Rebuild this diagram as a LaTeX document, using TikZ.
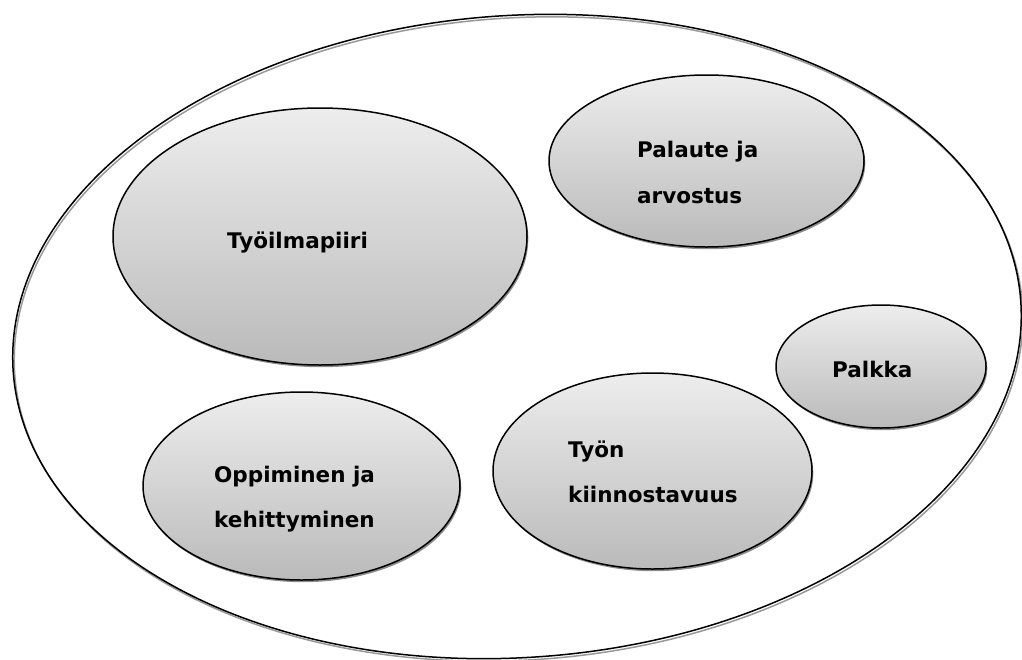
\documentclass[tikz,border=0pt]{standalone}
\usepackage{fontspec}
\setmainfont{DejaVu Sans}
\usetikzlibrary{shapes.geometric,shadows}
\tikzset{
  bubble/.style={ellipse, draw=black, line width=1.5pt, inner sep=0pt,
    top color=black!7, bottom color=black!27,
    drop shadow={shadow xshift=1.3pt, shadow yshift=-2.2pt, fill=black!45, opacity=1}},
  outerline/.style={ellipse, draw=black, line width=1.5pt, inner sep=0pt},
  outershade/.style={ellipse, draw=black!40, line width=1.5pt, inner sep=0pt},
  lbl/.style={anchor=base west, inner sep=0pt, font=\fontsize{21.5}{26}\selectfont\bfseries}
}
\begin{document}
\begin{tikzpicture}[x=1pt,y=-1pt]
\useasboundingbox (0,0) rectangle (1022,659);
% outer ellipse
\node[outershade, rotate=4, minimum width=1010pt, minimum height=642pt] (outershadow) at (518.5,339) {};
\node[outerline, rotate=4, minimum width=1010pt, minimum height=642pt] (outer) at (517,336.5) {};
% inner ellipses
\node[bubble, minimum width=414pt, minimum height=257pt] (tyoil) at (320,236.5) {};
\node[bubble, minimum width=315pt, minimum height=172pt] (palaute) at (706.5,161) {};
\node[bubble, minimum width=210pt, minimum height=123pt] (palkka) at (881,366.5) {};
\node[bubble, minimum width=317pt, minimum height=188pt] (oppi) at (301.5,486) {};
\node[bubble, minimum width=319pt, minimum height=196pt] (tyon) at (652.5,471) {};
% labels
\node[lbl] (ltyoil) at (227,248) {Työilmapiiri};
\node[lbl] (lpal1) at (637,157) {Palaute ja};
\node[lbl] (lpal2) at (637,203) {arvostus};
\node[lbl] (lpalk) at (832,377) {Palkka};
\node[lbl] (lopp1) at (214,482) {Oppiminen ja};
\node[lbl] (lopp2) at (214,527) {kehittyminen};
\node[lbl] (ltyon1) at (568,457) {Työn};
\node[lbl] (ltyon2) at (568,502) {kiinnostavuus};
\end{tikzpicture}
\end{document}
